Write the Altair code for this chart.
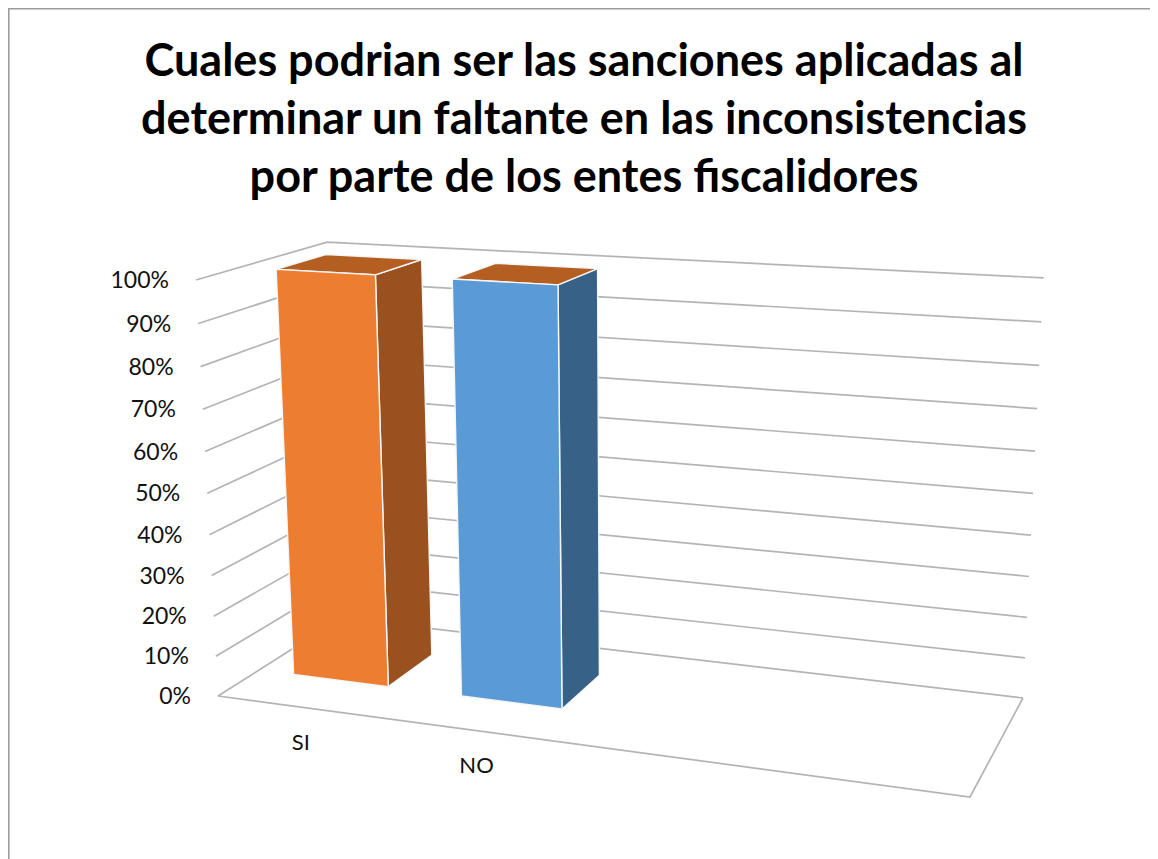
import altair as alt
import pandas as pd

# ---- data ----
categories = ["SI", "NO"]
values = [1.0, 1.0]
tick_values = [0.0, 0.1, 0.2, 0.3, 0.4, 0.5, 0.6, 0.7, 0.8, 0.9, 1.0]
tick_labels = ["0%", "10%", "20%", "30%", "40%", "50%", "60%", "70%", "80%", "90%", "100%"]
title_lines = [
    "Cuales podrian ser las sanciones aplicadas al",
    "determinar un faltante en las inconsistencias",
    "por parte de los entes fiscalidores",
]
front_colors = ["#ED7D31", "#5B9BD5"]
side_colors = ["#99511F", "#376187"]
top_color = "#B45E22"
grid_color = "#B0B0B0"
border_color = "#9C9C9C"

# ---- the 3-D view: slot count, bar shape and a perspective camera ----
SLOTS = 4
GAP_WIDTH = 0.75
DEPTH = (0.31, 0.70)
CAMERA = [
    [634.1, -31.8, 161.2, 218.0],
    [4.25, -430.0, -8.84, 695.0],
    [-0.12155, -0.05, 0.11209, 1.0],
]


def project(u, v, w):
    x, y, t = (r[0] * u + r[1] * v + r[2] * w + r[3] for r in CAMERA)
    return x / t, y / t


def path(points):
    rows = [dict(zip(("x", "y"), project(*p))) for p in points]
    return pd.DataFrame([{**r, "k": i} for i, r in enumerate(rows)])


X = alt.X("x:Q", scale=alt.Scale(domain=[8, 1150], nice=False, zero=False), axis=None)
Y = alt.Y("y:Q", scale=alt.Scale(domain=[858, 7], nice=False, zero=False), axis=None)


def stroke_path(points, color=grid_color, width=1.7):
    return alt.Chart(path(points)).mark_line(
        color=color, strokeWidth=width, opacity=0.95
    ).encode(x=X, y=Y, order="k:Q")


def face(points, color):
    return alt.Chart(path(points)).mark_line(
        fill=color, stroke="#F4F6F8", strokeWidth=1.4, interpolate="linear-closed"
    ).encode(x=X, y=Y, order="k:Q")


layers = []

# frame of the chart area (top and left edges only are inside the picture)
border = pd.DataFrame({"x": [8.8, 8.8, 1150], "y": [858, 7.8, 7.8], "k": [0, 1, 2]})
layers.append(
    alt.Chart(border).mark_line(color=border_color, strokeWidth=1.6).encode(x=X, y=Y, order="k:Q")
)

# walls: each tick runs along the side wall and the back wall
for t in tick_values:
    layers.append(stroke_path([(0, t, 0), (0, t, 1), (1, t, 1)]))
# floor
layers.append(stroke_path([(0, 0, 0), (1, 0, 0), (1, 0, 1)]))

# bars
bar_w = (1 / SLOTS) / (1 + GAP_WIDTH)
w0, w1 = DEPTH
for i, val in enumerate(values):
    c = (i + 0.5) / SLOTS
    u0, u1 = c - bar_w / 2, c + bar_w / 2
    layers.append(face([(u1, 0, w0), (u1, 0, w1), (u1, val, w1), (u1, val, w0)], side_colors[i]))
    layers.append(face([(u0, val, w0), (u1, val, w0), (u1, val, w1), (u0, val, w1)], top_color))
    layers.append(face([(u0, 0, w0), (u1, 0, w0), (u1, val, w0), (u0, val, w0)], front_colors[i]))

# tick labels
tick_df = pd.DataFrame(
    [{"x": project(0, t, 0)[0] - 27, "y": project(0, t, 0)[1] + 1, "label": l}
     for t, l in zip(tick_values, tick_labels)]
)
layers.append(
    alt.Chart(tick_df).mark_text(align="right", baseline="middle", font="Lato", fontSize=23, color="#111111")
    .encode(x=X, y=Y, text="label:N")
)

# category labels
cat_df = pd.DataFrame(
    [{"x": project((i + 0.5) / SLOTS, 0, 0)[0] - 1, "y": project((i + 0.5) / SLOTS, 0, 0)[1] + 35.5, "label": n}
     for i, n in enumerate(categories)]
)
layers.append(
    alt.Chart(cat_df).mark_text(align="center", baseline="middle", font="Lato", fontSize=22, color="#111111")
    .encode(x=X, y=Y, text="label:N")
)

chart = (
    alt.layer(*layers)
    .properties(
        width=1142,
        height=851,
        padding=0,
        autosize="none",
        title=alt.TitleParams(
            text=title_lines,
            anchor="middle",
            font="Lato",
            fontSize=45,
            fontWeight="bold",
            color="#000000",
            lineHeight=58,
            baseline="top",
            offset=0,
            dy=195,
            dx=5,
        ),
    )
    .configure_view(stroke=None)
)

chart.save("out.html", embed_options={"renderer": "svg", "actions": False})
